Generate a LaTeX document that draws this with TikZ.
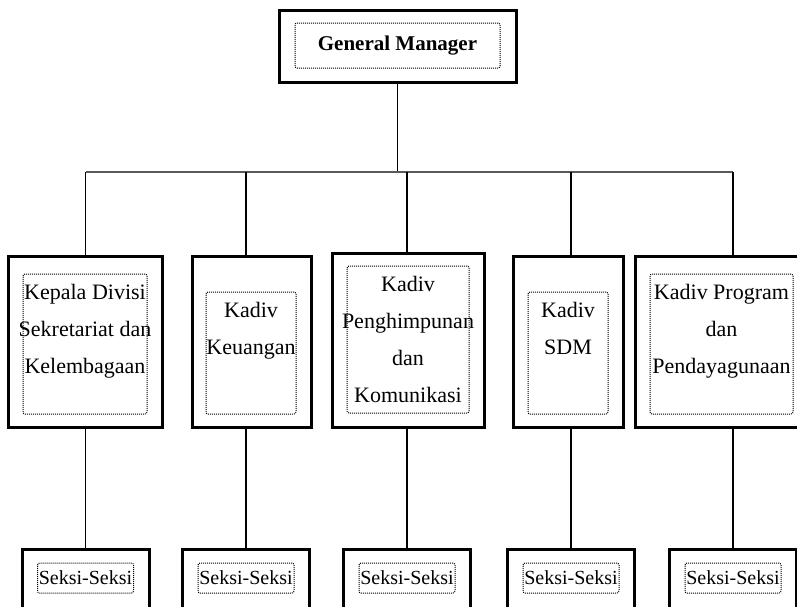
\documentclass[tikz,border=0pt]{standalone}
\usepackage{fontspec}
\setmainfont{Liberation Serif}
\usetikzlibrary{positioning}

\begin{document}
\begin{tikzpicture}[x=1pt,y=-1pt,
    outbox/.style={draw,line width=3pt,minimum height=171pt},
    inbox/.style={draw,line width=1pt,dash pattern=on 1pt off 1pt,rounded corners=2pt},
    lbl/.style={font=\fontsize{22}{37}\selectfont,align=center,inner sep=0pt},
    seksi/.style={draw,line width=3pt,minimum width=127pt,minimum height=66pt},
    link/.style={line width=1.2pt}]
  \useasboundingbox (0,0) rectangle (797,606);
  \node[draw,line width=3pt,minimum width=237pt,minimum height=72pt] (gm) at (397.5,46) {};
  \node[inbox,minimum width=205pt,minimum height=45pt,font=\fontsize{21}{25}\selectfont\bfseries] (gmt) at (397.5,45.5) {General Manager};

  \node[outbox,minimum width=154pt] (m1) at (85,341.5) {};
  \node[inbox,minimum width=124pt,minimum height=140pt] (i1) at (85,344) {};
  \node[lbl,below=11pt of i1.north] (t1) {Kepala Divisi\\Sekretariat dan\\Kelembagaan};

  \node[outbox,minimum width=119pt] (m2) at (251.5,341.5) {};
  \node[inbox,minimum width=90pt,minimum height=122pt] (i2) at (251,353) {};
  \node[lbl,below=11pt of i2.north] (t2) {Kadiv\\Keuangan};

  \node[outbox,minimum width=152pt,minimum height=174pt] (m3) at (408,340) {};
  \node[inbox,minimum width=122pt,minimum height=147pt] (i3) at (408,339.5) {};
  \node[lbl,below=11pt of i3.north] (t3) {Kadiv\\Penghimpunan\\dan\\Komunikasi};

  \node[outbox,minimum width=110pt] (m4) at (568,341.5) {};
  \node[inbox,minimum width=80pt,minimum height=122pt] (i4) at (568,353) {};
  \node[lbl,below=11pt of i4.north] (t4) {Kadiv\\SDM};

  \node[outbox,minimum width=173pt] (m5) at (721.5,341.5) {};
  \node[inbox,minimum width=143pt,minimum height=140pt] (i5) at (721.5,344) {};
  \node[lbl,below=11pt of i5.north] (t5) {Kadiv Program\\dan\\Pendayagunaan};

  \foreach \x [count=\i] in {85.5,246,407,571,733} {
    \node[seksi] (s\i) at (\x,582) {};
    \node[inbox,minimum width=96pt,minimum height=30pt,inner sep=1pt,font=\fontsize{20}{24}\selectfont] (k\i) at (\x,578) {Seksi-Seksi};
  }

  \coordinate (bus) at (0,172);
  \draw[link] (gm.south) -- (gm.south |- bus);
  \draw[link,line width=1.6pt,black!65] (bus -| s1) -- (bus -| s5);
  \foreach \i in {1,...,5} {
    \draw[link] (bus -| s\i) -- (m\i.north -| s\i);
    \draw[link] (m\i.south -| s\i) -- (s\i.north);
  }
\end{tikzpicture}
\end{document}
